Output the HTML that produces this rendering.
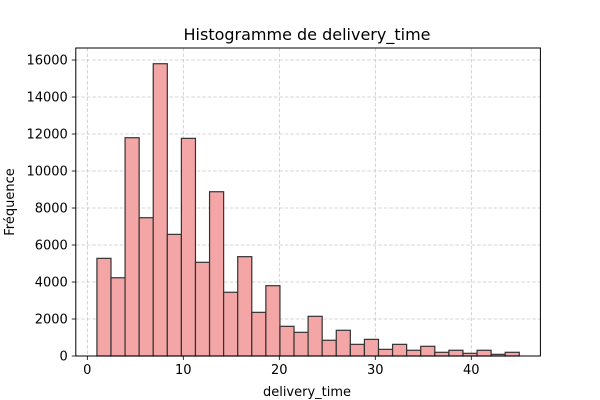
<!DOCTYPE html>
<html><head><meta charset="utf-8"><style>
html,body{margin:0;padding:0;background:#fff;}
svg{display:block;font-family:"DejaVu Sans","Liberation Sans",sans-serif;}
</style></head><body>
<svg id="chart" width="600" height="400" viewBox="0 0 600 400">
<rect x="0" y="0" width="600" height="400" fill="#fff"/>
<g id="grid"></g>
<g id="bars"></g>
<rect x="75.8" y="48" width="464.6" height="308" fill="none" stroke="#000" stroke-width="1"/>
<g id="ticks"></g>
<text x="307" y="40" text-anchor="middle" font-size="16">Histogramme de delivery_time</text>
<text x="307" y="396" text-anchor="middle" font-size="13">delivery_time</text>
<text x="14" y="202" text-anchor="middle" font-size="13" transform="rotate(-90 14 202)">Fréquence</text>
</svg>
<script>
const binStart = 1;
const binEnd = 45;
const counts = [5280,4230,11800,7475,15800,6575,11765,5065,8880,3445,5370,2360,3800,1605,1280,2145,850,1390,630,900,360,630,310,525,200,310,145,310,90,200];
const xTicks = [0,10,20,30,40];
const yTicks = [0,2000,4000,6000,8000,10000,12000,14000,16000];

const NS = "http://www.w3.org/2000/svg";
const X0 = 75.8, X1 = 540.4, Y0 = 356, Y1 = 48;
const xmin = -1.2, xmax = 47.2;
const ymin = 0, ymax = 16650;
function xs(v){ return X0 + (v - xmin) / (xmax - xmin) * (X1 - X0); }
function ys(v){ return Y0 - (v - ymin) / (ymax - ymin) * (Y0 - Y1); }
function mk(tag, attrs, parent){ const e = document.createElementNS(NS, tag); for (const k in attrs) e.setAttribute(k, attrs[k]); parent.appendChild(e); return e; }

const grid = document.getElementById('grid');
const bars = document.getElementById('bars');
const ticks = document.getElementById('ticks');

xTicks.forEach(t => {
  const g = mk('line', {x1: xs(t), x2: xs(t), y1: Y1, y2: Y0, stroke: '#b0b0b0', 'stroke-width': 0.8, 'stroke-dasharray': '3.5,2', opacity: 0.7}, grid);
  
  
  const tk = mk('line', {x1: xs(t), x2: xs(t), y1: Y0, y2: Y0 + 4, stroke: '#000', 'stroke-width': 0.8}, ticks);
  
  
  const lb = mk('text', {x: xs(t), y: Y0 + 18, 'text-anchor': 'middle', 'font-size': 13}, ticks);
  lb.textContent = t;
  
  
});
yTicks.forEach(t => {
  const g = mk('line', {x1: X0, x2: X1, y1: ys(t), y2: ys(t), stroke: '#b0b0b0', 'stroke-width': 0.8, 'stroke-dasharray': '3.5,2', opacity: 0.7}, grid);
  
  
  const tk = mk('line', {x1: X0 - 4, x2: X0, y1: ys(t), y2: ys(t), stroke: '#000', 'stroke-width': 0.8}, ticks);
  
  
  const lb = mk('text', {x: X0 - 8, y: ys(t) + 4.5, 'text-anchor': 'end', 'font-size': 13}, ticks);
  lb.textContent = t;
  
  
});
const w = (binEnd - binStart) / counts.length;
counts.forEach((c, i) => {
  const a = binStart + i * w, b = a + w;
  const r = mk('rect', {x: xs(a), y: ys(c), width: xs(b) - xs(a), height: ys(0) - ys(c), fill: '#f4a6a6', stroke: '#333', 'stroke-width': 1.2}, bars);
  
  
});
</script>
</body></html>
